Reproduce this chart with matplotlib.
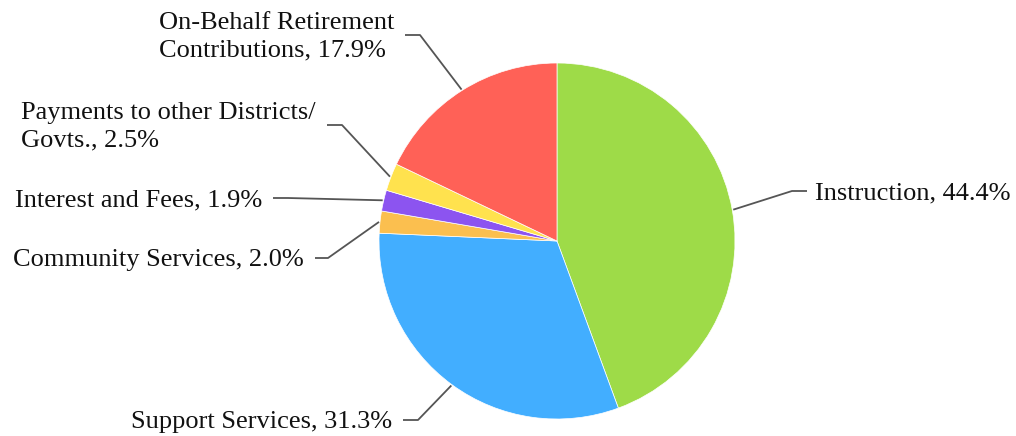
import matplotlib.pyplot as plt
import numpy as np

categories = ['Instruction', 'Support Services', 'Community Services',
              'Interest and Fees', 'Payments to other Districts/\nGovts.',
              'On-Behalf Retirement\nContributions']
shares = [44.4, 31.3, 2.0, 1.9, 2.5, 17.9]
colors = ['#9edb48', '#42aeff', '#fbbf4f', '#8c54f0', '#ffe24e', '#ff6157']

# leader line layout: elbow x, horizontal end x, y (pixels, y down)
leaders = [(792, 807, 191), (418, 403, 420), (328, 315, 258),
           (288, 273, 198), (342, 327, 125), (420, 405, 35)]
W, H = 1016, 436
cx, cy, R = 557, 241, 178

plt.rcParams['font.family'] = ['Liberation Serif', 'DejaVu Serif']

fig = plt.figure(figsize=(W / 100, H / 100), dpi=100)
ax = fig.add_axes([0, 0, 1, 1])

wedges, _ = ax.pie(shares, colors=colors, startangle=90, counterclock=False,
                   center=(cx, H - cy), radius=R, frame=True,
                   wedgeprops=dict(linewidth=0.5, edgecolor='white'))
ax.set_xlim(0, W)
ax.set_ylim(0, H)
ax.axis('off')

for w, name, val, (ex, hx, ey) in zip(wedges, categories, shares, leaders):
    ang = np.deg2rad((w.theta1 + w.theta2) / 2)
    sx = cx + (R + 1) * np.cos(ang)
    sy = H - cy + (R + 1) * np.sin(ang)
    ey = H - ey
    right = hx > ex
    ax.plot([sx, ex, hx], [sy, ey, ey], color='#555555', lw=1.3,
            solid_capstyle='butt')
    tx = hx + 8 if right else hx - 11
    # labels sit a touch below the leader line
    ax.text(tx, ey - 2, f'{name}, {val:.1f}%', ha='left' if right else 'right',
            va='center', multialignment='left', fontsize=19,
            linespacing=1.3, color='#111111')

fig.savefig('out.png', dpi=100)
